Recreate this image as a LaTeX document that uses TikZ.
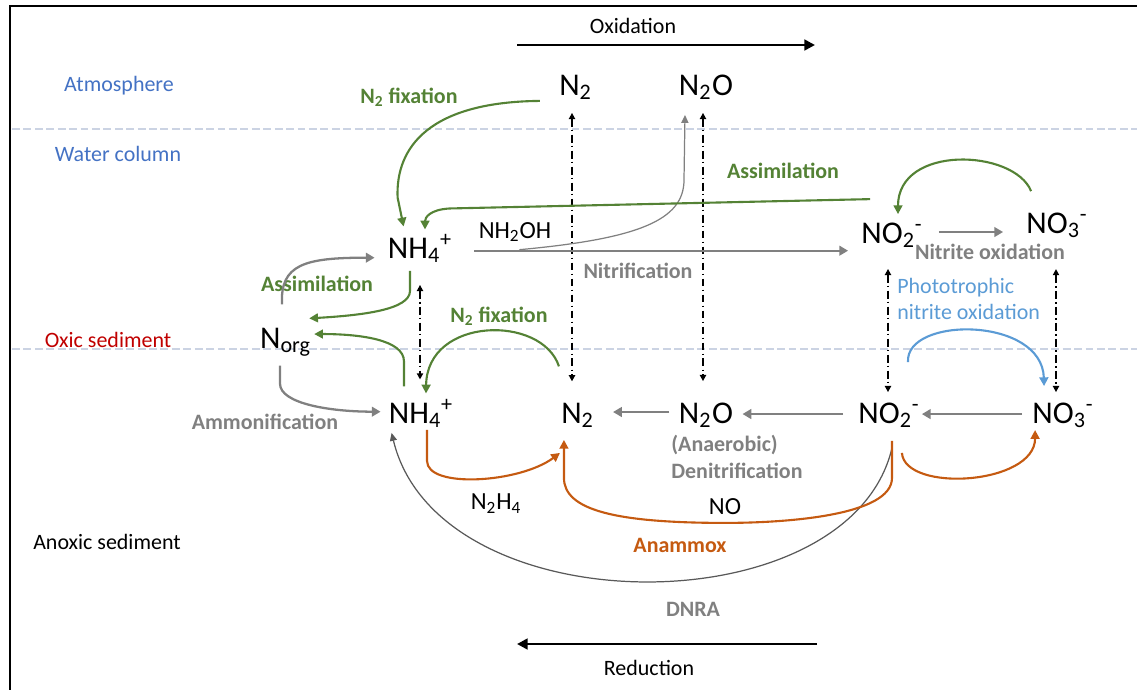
\documentclass[tikz,border=0pt]{standalone}
\usepackage{fontspec}
\setmainfont{Carlito}
\usepackage{tikz}
\usetikzlibrary{arrows.meta,calc}
\definecolor{ngreen}{RGB}{84,130,53}
\definecolor{norange}{RGB}{197,90,17}
\definecolor{ngray}{RGB}{128,128,128}
\definecolor{ndark}{RGB}{89,89,89}
\definecolor{nblue}{RGB}{91,155,213}
\definecolor{zblue}{RGB}{68,114,196}
\definecolor{zred}{RGB}{192,0,0}
\definecolor{zline}{RGB}{203,211,227}
\newcommand{\chem}[3]{#1\textsubscript{#2}\textsuperscript{#3}}

\begin{document}
\begin{tikzpicture}[x=0.02cm, y=-0.02cm,
    species/.style={font=\fontsize{18}{20}\selectfont, inner sep=0pt, anchor=base},
    zone/.style={font=\fontsize{12.5}{15}\selectfont, inner sep=0pt},
    proc/.style={font=\fontsize{12.5}{15.5}\selectfont\bfseries, inner sep=0pt},
    inter/.style={font=\fontsize{14}{16}\selectfont, inner sep=0pt},
    garr/.style={-{Triangle[length=5pt,width=5.5pt]}, line width=1.3pt, ngray},
    gnarr/.style={-{Triangle[length=5pt,width=5pt]}, line width=1.2pt, ngreen},
    orarr/.style={-{Triangle[length=5pt,width=5pt]}, line width=1.2pt, norange},
    blarr/.style={-{Triangle[length=5pt,width=5pt]}, line width=1.2pt, nblue},
    thinarr/.style={-{Triangle[length=4.5pt,width=4pt]}, line width=0.7pt},
    dd/.style={{Triangle[length=3.5pt,width=3.5pt]}-{Triangle[length=3.5pt,width=3.5pt]},
               line width=1.1pt, dash pattern=on 4.5pt off 1.8pt on 1pt off 1.8pt},
    redox/.style={-{Triangle[length=6pt,width=6pt]}, line width=1.7pt},
    zsep/.style={zline, line width=0.9pt, dash pattern=on 4.5pt off 2pt}
]
    \useasboundingbox (0,0) rectangle (1137,690);
    \draw[line width=1.4pt] (10,690) -- (10,6) -- (1137,6);
    \draw[zsep] (12,129) -- (1137,129);
    \draw[zsep] (12,349) -- (1137,349);

    \node[zone, zblue] (atm) at (119,86) {Atmosphere};
    \node[zone, zblue] (wat) at (118,154) {Water column};
    \node[zone, zred] (oxs) at (108,340) {Oxic sediment};
    \node[zone] (anox) at (107,542) {Anoxic sediment};

    \node[zone] (ox) at (633,26) {Oxidation};
    \node[zone] (red) at (649,668) {Reduction};
    \coordinate (oxa) at (517,45);
    \coordinate (oxb) at (815,45);
    \coordinate (rda) at (817,644);
    \coordinate (rdb) at (517,644);
    \draw[redox] (oxa) -- (oxb);
    \draw[redox] (rda) -- (rdb);

    \node[species] (n2t) at (576,95) {\chem{N}{2}{}};
    \node[species] (n2ot) at (706,95) {\chem{N}{2}{}O};
    \node[species] (nh4u) at (420,258) {\chem{NH}{4}{+}};
    \node[species] (no2u) at (892,243) {\chem{NO}{2}{-}};
    \node[species] (no3u) at (1057,233) {\chem{NO}{3}{-}};
    \node[species] (norg) at (286,348) {\chem{N}{org}{}};
    \node[species] (nh4l) at (421,423) {\chem{NH}{4}{+}};
    \node[species] (n2l) at (578,423) {\chem{N}{2}{}};
    \node[species] (n2ol) at (706,423) {\chem{N}{2}{}O};
    \node[species] (no2l) at (889,423) {\chem{NO}{2}{-}};
    \node[species] (no3l) at (1063,423) {\chem{NO}{3}{-}};

    \node[proc, ngreen] (fixt) at (409,97) {N\textsubscript{2} fixation};
    \node[proc, ngreen] (assu) at (783,171) {Assimilation};
    \node[inter] (nhoh) at (515,232) {NH\textsubscript{2}OH};
    \node[proc, ngray] (nitr) at (638,271) {Nitrification};
    \node[proc, ngray] (nitox) at (990,252) {Nitrite oxidation};
    \node[proc, ngreen] (assl) at (317,284) {Assimilation};
    \node[proc, ngreen] (fixl) at (499,316) {N\textsubscript{2} fixation};
    \node[zone, nblue, anchor=west, align=left] (photo) at (897,299) {Phototrophic\\nitrite oxidation};
    \node[proc, ngray] (ammo) at (265,422) {Ammonification};
    \node[proc, ngray, anchor=west, align=left] (denit) at (671,457) {(Anaerobic)\\Denitrification};
    \node[inter] (n2h4) at (496,504) {N\textsubscript{2}H\textsubscript{4}};
    \node[inter] (no) at (725,507) {NO};
    \node[proc, norange] (anam) at (680,545) {Anammox};
    \node[proc, ngray] (dnra) at (693,609) {DNRA};

    \draw[dd] ($(n2t.south)+(-4,13)$) -- ($(n2t.south |- n2l.north)+(-4,-21)$);
    \draw[dd] ($(n2ot.south)+(-3,13)$) -- ($(n2ot.south |- n2ol.north)+(-3,-21)$);
    \draw[dd] ($(nh4u.south)+(0,22)$) -- ($(nh4u.south |- nh4l.north)+(0,-20)$);
    \draw[dd] ($(no2u.south)+(-4,21)$) -- ($(no2u.south |- no2l.north)+(-4,-10)$);
    \draw[dd] ($(no3u.south)+(-1,31)$) -- ($(no3u.south |- no3l.north)+(-1,-10)$);

    \draw[garr] ($(nh4u.east)+(22,2)$) -- ($(nh4u.east -| no2u.west)+(-13,2)$);
    \draw[garr] ($(no2u.east)+(16,-3)$) -- ($(no2u.east -| no3u.west)+(-23,-3)$);
    \draw[garr] ($(n2ol.west)+(-9,-3)$) -- ($(n2ol.west -| n2l.east)+(18,-3)$);
    \draw[garr] ($(no2l.west)+(-15,-1)$) -- ($(no2l.west -| n2ol.east)+(9,-1)$);
    \draw[garr] ($(no3l.west)+(-10,-1)$) -- ($(no3l.west -| no2l.east)+(2,-1)$);
    \draw[garr] ($(norg.south)+(-6,9)$) -- ++(0,18) .. controls +(0,20) and +(-50,0) .. ($(nh4l.west)+(-8,-2)$);
    \draw[garr] ($(norg.north)+(-4,-23)$) .. controls +(-2,-40) and +(-70,0) .. ($(nh4u.west)+(-13,9)$);
    \draw[thinarr, ngray] ($(nh4u.east)+(67,1)$) .. controls +(120,-11) and +(0,40) .. ($(n2ot.south)+(-22,80)$) -- ($(n2ot.south)+(-21,15)$);
    \draw[thinarr, ndark] ($(no2l.south)+(3,20)$) .. controls +(-42,180) and +(47,195) .. ($(nh4l.south west)+(3,5)$);

    \draw[orarr] ($(nh4l.south)+(6,2)$) -- ++(0,31) .. controls +(0,28) and +(-40,30) .. ($(n2l.south west)+(-1,25)$);
    \draw[orarr] ($(no2l.south)+(3,13)$) -- ++(0,37) .. controls +(0,38) and +(60,0) .. ++(-167,45)
        .. controls +(-110,0) and +(0,32) .. ($(n2l.south west)+(3,50)$) -- ($(n2l.south west)+(3,12)$);
    \draw[orarr] ($(no2l.south east)+(-18,25)$) .. controls +(3,40) and +(0,55) .. ($(no3l.south west)+(3,2)$);

    \draw[gnarr] ($(n2t.south west)+(-19,1)$) .. controls +(-111,1) and +(-2,-50) .. ($(nh4u.north west)+(10,-37)$) -- ($(nh4u.north west)+(16,-8)$);
    \draw[gnarr] ($(no2u.north west)+(9,-23)$) -- ($(nh4u.north)+(30,-26)$) .. controls +(-20,1) and +(0,-12) .. ($(nh4u.north)+(5,-5)$);
    \draw[gnarr] ($(no3u.north west)+(5,-21)$) .. controls +(-17,-42) and +(0,-70) .. ($(no2u.north)+(6,-8)$);
    \draw[gnarr] ($(nh4u.south)+(-10,8)$) -- ++(0,20) .. controls +(0,19) and +(52,-3) .. ($(norg.north east)+(-3,-9)$);
    \draw[gnarr] ($(nh4l.north)+(-17,-13)$) -- ++(0,-25) .. controls +(0,-22) and +(45,0) .. ($(norg.east)+(2,-8)$);
    \draw[gnarr] ($(n2l.north west)+(-2,-36)$) .. controls +(-17,-52) and +(1,-77) .. ($(nh4l.north)+(5,-6)$);

    \draw[blarr] ($(no2l.north)+(19,-40)$) .. controls +(-3,-46) and +(-2,-70) .. ($(no3l.north west)+(12,-16)$);
\end{tikzpicture}
\end{document}
